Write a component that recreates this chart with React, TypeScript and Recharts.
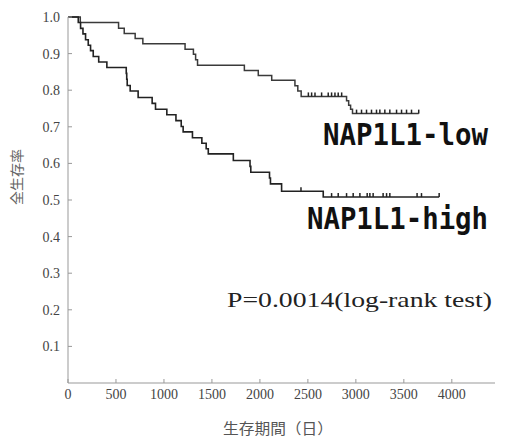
import { ComposedChart, Line, Scatter, XAxis, YAxis } from "recharts";

// NAP1L1-low group: event times (days) and survival after each step
const lowTimes = [0, 128, 527, 586, 700, 780, 1220, 1307, 1330, 1350, 1838, 1983, 2123, 2365, 2395, 2430, 2903, 2925, 2945, 2965, 3655];
const lowSurv = [1, 0.985, 0.969, 0.955, 0.941, 0.927, 0.912, 0.898, 0.883, 0.868, 0.854, 0.84, 0.827, 0.812, 0.798, 0.783, 0.771, 0.759, 0.748, 0.736, 0.736];
const lowCensorA = [2505, 2539, 2574, 2643, 2712, 2747, 2782, 2816, 2852];
const lowCensorB = [3007, 3059, 3111, 3163, 3215, 3250, 3302, 3354, 3424, 3476, 3528, 3580, 3655];

// NAP1L1-high group
const highTimes = [0, 107, 131, 156, 183, 211, 235, 263, 320, 405, 607, 612, 617, 648, 731, 877, 912, 1030, 1125, 1180, 1200, 1297, 1395, 1440, 1462, 1723, 1897, 1905, 2100, 2110, 2226, 2660, 3868];
const highSurv = [1, 0.985, 0.969, 0.954, 0.938, 0.923, 0.908, 0.892, 0.877, 0.862, 0.846, 0.83, 0.813, 0.798, 0.78, 0.764, 0.748, 0.733, 0.717, 0.701, 0.686, 0.67, 0.655, 0.64, 0.626, 0.608, 0.592, 0.576, 0.56, 0.544, 0.524, 0.508, 0.508];
const highCensorA = [2428];
const highCensorB = [2747, 2816, 2903, 2972, 3042, 3118, 3146, 3180, 3284, 3320, 3354, 3638, 3684, 3868];

const xTicks = [0, 500, 1000, 1500, 2000, 2500, 3000, 3500, 4000];
const yTicks = [0.1, 0.2, 0.3, 0.4, 0.5, 0.6, 0.7, 0.8, 0.9, 1.0];

const toSteps = (ts: number[], ss: number[]) => ts.map((t, i) => ({ t, s: ss[i] }));
const toMarks = (ts: number[], s: number) => ts.map((t) => ({ t, s }));

const lowData = toSteps(lowTimes, lowSurv);
const highData = toSteps(highTimes, highSurv);
const lowMarks = [...toMarks(lowCensorA, 0.783), ...toMarks(lowCensorB, 0.736)];
const highMarks = [...toMarks(highCensorA, 0.524), ...toMarks(highCensorB, 0.508)];

const serif = "'Liberation Serif', 'Times New Roman', serif";
const cjk = "'Noto Sans CJK JP', sans-serif";

const CensorTick = (props: any) => {
  const { cx, cy } = props;
  if (cx == null || cy == null) return null;
  return <line x1={cx} y1={cy} x2={cx} y2={cy - 4} stroke="#222" strokeWidth={1.5} />;
};

export default function App() {
  return (
    <div style={{ position: "absolute", left: 0, top: 0, width: 506, height: 437, background: "#fff" }}>
      <ComposedChart width={506} height={437} margin={{ top: 17, right: 11, left: 0, bottom: 0 }}>
        <XAxis
          dataKey="t"
          type="number"
          domain={[0, 4450]}
          ticks={xTicks}
          height={54}
          tickSize={-4}
          tickMargin={10}
          axisLine={{ stroke: "#999" }}
          tickLine={{ stroke: "#999" }}
          tick={{ fill: "#444", fontSize: 14, fontFamily: serif }}
        />
        <YAxis
          type="number"
          domain={[0, 1]}
          ticks={yTicks}
          width={68}
          tickSize={-4}
          tickMargin={12}
          tickFormatter={(v: number) => v.toFixed(1)}
          axisLine={{ stroke: "#999" }}
          tickLine={{ stroke: "#999" }}
          tick={{ fill: "#444", fontSize: 14, fontFamily: serif }}
        />
        <Line data={lowData} dataKey="s" type="stepAfter" stroke="#3a3a3a" strokeWidth={1.5} dot={false} isAnimationActive={false} />
        <Line data={highData} dataKey="s" type="stepAfter" stroke="#222" strokeWidth={1.6} dot={false} isAnimationActive={false} />
        <Scatter data={lowMarks} dataKey="s" shape={CensorTick} isAnimationActive={false} />
        <Scatter data={highMarks} dataKey="s" shape={CensorTick} isAnimationActive={false} />
      </ComposedChart>
      <svg width={506} height={437} style={{ position: "absolute", left: 0, top: 0, pointerEvents: "none" }}>
        <text x={323} y={145} fontFamily="'DejaVu Sans Mono', monospace" fontWeight="bold" fontSize={30} fill="#111" textLength={165} lengthAdjust="spacingAndGlyphs">
          NAP1L1-low
        </text>
        <text x={307} y={229} fontFamily="'DejaVu Sans Mono', monospace" fontWeight="bold" fontSize={30} fill="#111" textLength={181} lengthAdjust="spacingAndGlyphs">
          NAP1L1-high
        </text>
        <text x={227} y={307} fontFamily={serif} fontSize={22} fill="#222" textLength={265} lengthAdjust="spacingAndGlyphs">
          P=0.0014(log-rank test)
        </text>
        <text x={18} y={177} fontFamily={cjk} fontSize={14} fill="#666" textAnchor="middle" dominantBaseline="middle" transform="rotate(-90 18 177)">
          全生存率
        </text>
        <text x={223} y={434} fontFamily={cjk} fontSize={15} fill="#555" textLength={110} lengthAdjust="spacingAndGlyphs">
          生存期間（日）
        </text>
      </svg>
    </div>
  );
}
